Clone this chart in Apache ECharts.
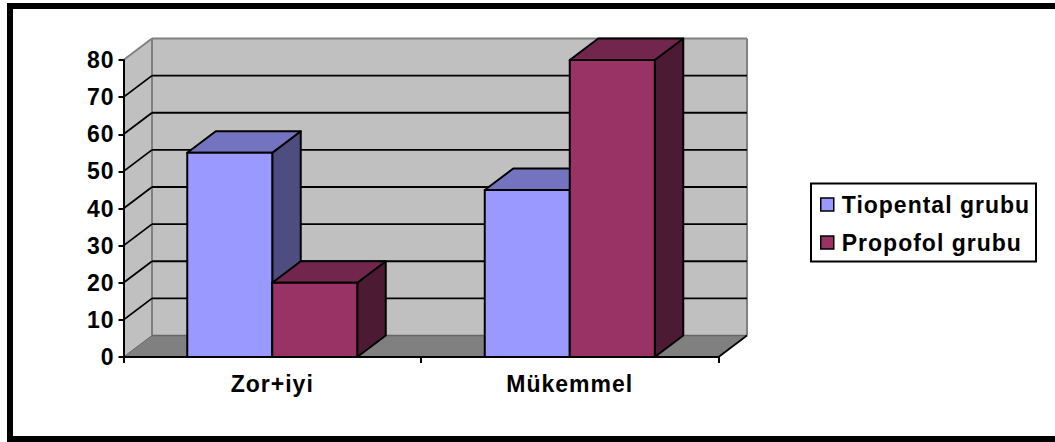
<!DOCTYPE html>
<html>
<head>
<meta charset="utf-8">
<style>
html,body{margin:0;padding:0;background:#fff;}
#chart{width:1055px;height:442px;}
#chart text{letter-spacing:1px;}
</style>
<script src="https://cdn.jsdelivr.net/npm/echarts@6/dist/echarts.min.js"></script>
</head>
<body>
<div id="chart"></div>
<script>
const categories = ['Zor+iyi', 'Mükemmel'];
const tiopental = [55, 45];
const propofol = [20, 80];
const yTicks = [0, 10, 20, 30, 40, 50, 60, 70, 80];

const DX = 28.5, DY = -21.5;
const FONT = '"Liberation Sans", Arial, sans-serif';

function poly(points, fill, stroke, width) {
  return { type: 'polygon', shape: { points: points },
    style: { fill: fill, stroke: stroke || 'none', lineWidth: width === undefined ? 2 : width, lineJoin: 'round' } };
}
function line(a, b, stroke, width) {
  return { type: 'line', shape: { x1: a[0], y1: a[1], x2: b[0], y2: b[1] },
    style: { stroke: stroke, lineWidth: width, fill: null } };
}

function renderWalls(params, api) {
  const bl = api.coord([0, 0]), tl = api.coord([0, 80]);
  const band = api.size([1, 0])[0];
  const x0 = bl[0] - band / 2, x1 = x0 + band * categories.length;
  const y0 = bl[1], y8 = tl[1];
  const grey = '#808080';
  return { type: 'group', children: [
    poly([[x0 + DX, y0 + DY], [x1 + DX, y0 + DY], [x1 + DX, y8 + DY], [x0 + DX, y8 + DY]], '#C0C0C0'),
    poly([[x0, y0], [x0 + DX, y0 + DY], [x0 + DX, y8 + DY], [x0, y8]], '#C0C0C0'),
    poly([[x0, y0], [x1, y0], [x1 + DX, y0 + DY], [x0 + DX, y0 + DY]], grey),
    line([x0 + DX, y0 + DY], [x0 + DX, y8 + DY], grey, 2),
    line([x1 + DX, y0 + DY], [x1 + DX, y8 + DY], grey, 2),
    line([x0 + DX, y0 + DY], [x1 + DX, y0 + DY], '#666666', 1.5),
    line([x0 + DX, y8 + DY], [x1 + DX, y8 + DY], grey, 2),
    line([x0, y8], [x0 + DX, y8 + DY], grey, 2),
    line([x0, y0], [x0 + DX, y0 + DY], '#666666', 1),
    line([x1, y0], [x1 + DX, y0 + DY], '#000000', 1.8)
  ] };
}

function renderGrid(params, api) {
  const v = api.value(0);
  const p = api.coord([0, v]);
  const band = api.size([1, 0])[0];
  const x0 = p[0] - band / 2, x1 = x0 + band * categories.length, y = p[1];
  return { type: 'group', children: [
    line([x0, y], [x0 + DX, y + DY], '#000000', 1.8),
    line([x0 + DX, y + DY], [x1 + DX, y + DY], '#000000', 1.8)
  ] };
}

function barRenderer(slot, front, top, side) {
  return function (params, api) {
    const i = api.value(0), v = api.value(1);
    const band = api.size([1, 0])[0];
    const w = band / 3.5;
    const c = api.coord([i, v]), b = api.coord([i, 0]);
    const l = c[0] - w + slot * w, r = l + w, t = c[1], y0 = b[1];
    const k = '#000000';
    return { type: 'group', children: [
      poly([[r, y0], [r + DX, y0 + DY], [r + DX, t + DY], [r, t]], side, k),
      poly([[l, t], [r, t], [r + DX, t + DY], [l + DX, t + DY]], top, k),
      poly([[l, y0], [r, y0], [r, t], [l, t]], front, k)
    ] };
  };
}

const chart = echarts.init(document.getElementById('chart'), null, { renderer: 'svg', width: 1055, height: 442 });
chart.setOption({
  animation: false,
  backgroundColor: '#ffffff',
  grid: { left: 123.5, right: 336.5, top: 60, bottom: 85, containLabel: false },
  xAxis: {
    type: 'category', data: categories, boundaryGap: true, z: 10,
    axisLine: { show: true, onZero: false, lineStyle: { color: '#000', width: 2 } },
    axisTick: { show: true, alignWithLabel: false, length: 6, lineStyle: { color: '#000', width: 2 } },
    axisLabel: { color: '#000', fontFamily: FONT, fontWeight: 'bold', fontSize: 23, margin: 15 },
    splitLine: { show: false }
  },
  yAxis: {
    type: 'value', min: 0, max: 80, interval: 10, z: 10,
    axisLine: { show: true, lineStyle: { color: '#000', width: 2 } },
    axisTick: { show: true, length: 5, lineStyle: { color: '#000', width: 2 } },
    axisLabel: { color: '#000', fontFamily: FONT, fontWeight: 'bold', fontSize: 23, margin: 9 },
    splitLine: { show: false }
  },
  legend: {
    left: 820, top: 193, orient: 'vertical', padding: 0, itemGap: 15,
    itemWidth: 13, itemHeight: 13, icon: 'rect',
    data: ['Tiopental grubu', 'Propofol grubu'],
    textStyle: { color: '#000', fontFamily: FONT, fontWeight: 'bold', fontSize: 23, padding: [0, 0, 0, 3] },
    itemStyle: { borderColor: '#000', borderWidth: 1.5 },
    selectedMode: false
  },
  graphic: [
    { type: 'rect', silent: true, z: -10, shape: { x: 10, y: 6, width: 1070, height: 433 },
      style: { fill: 'none', stroke: '#000', lineWidth: 6 } },
    { type: 'rect', silent: true, z: -10, shape: { x: 811, y: 183.5, width: 225, height: 78 },
      style: { fill: '#fff', stroke: '#000', lineWidth: 2 } }
  ],
  series: [
    { type: 'custom', name: 'walls', coordinateSystem: 'cartesian2d', clip: false, silent: true, z: 1,
      data: [[0, 0]], renderItem: renderWalls },
    { type: 'custom', name: 'grid', coordinateSystem: 'cartesian2d', clip: false, silent: true, z: 2,
      data: yTicks.slice(1, -1).map(function (t) { return [t]; }),
      encode: { y: 0 }, renderItem: renderGrid },
    { type: 'custom', name: 'Tiopental grubu', coordinateSystem: 'cartesian2d', clip: false, silent: true, z: 3,
      itemStyle: { color: '#9999FF' }, encode: { x: 0, y: 1 },
      data: tiopental.map(function (v, i) { return [i, v]; }),
      renderItem: barRenderer(0, '#9999FF', '#7373BF', '#4D4D80') },
    { type: 'custom', name: 'Propofol grubu', coordinateSystem: 'cartesian2d', clip: false, silent: true, z: 4,
      itemStyle: { color: '#993366' }, encode: { x: 0, y: 1 },
      data: propofol.map(function (v, i) { return [i, v]; }),
      renderItem: barRenderer(1, '#993366', '#73264D', '#4D1A33') }
  ]
});
</script>
</body>
</html>
